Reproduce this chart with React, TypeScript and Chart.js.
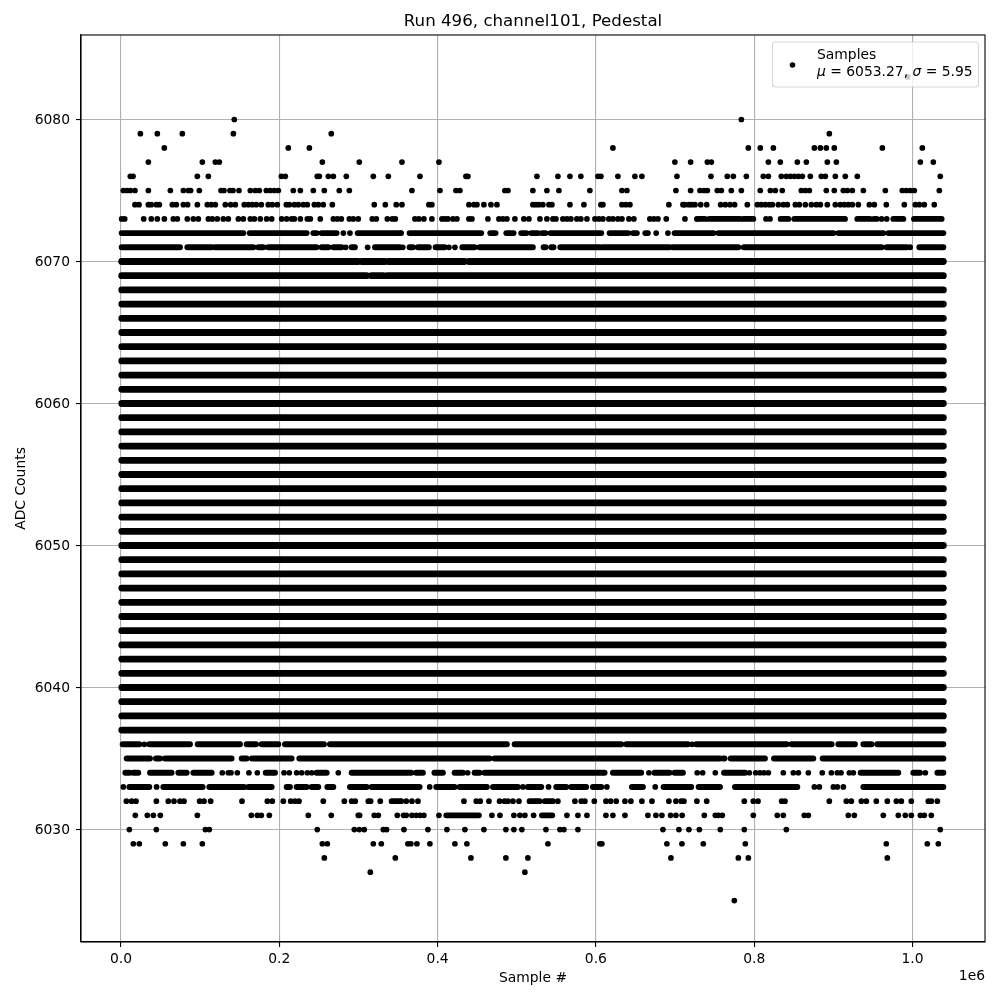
import React, { useEffect, useRef } from "react";
import { Chart, registerables } from "chart.js";

Chart.register(...registerables);

const FONT = "'DejaVu Sans'";
const titleText = "Run 496, channel101, Pedestal";
const xLabel = "Sample #";
const yLabel = "ADC Counts";
const xOffsetText = "1e6";
const legendName = "Samples";
const legendMu = "6053.27";
const legendSigma = "5.95";
const xTickValues = [0, 200000, 400000, 600000, 800000, 1000000];
const yTickValues = [6030, 6040, 6050, 6060, 6070, 6080];

// x positions are in thousands of samples
const dots6083 = [994];
const dots6080 = [143.2, 783.8];
const dots6079 = [24.5, 45.9, 77.5, 142, 265.7, 894.9];
const dots6078 = [54.8, 211.4, 238, 621.5, 792.6, 807.7, 824.2, 876, 883.6, 891.1, 901.2, 961.9, 1012.4];
const dots6077 = [34.6, 102.8, 119.2, 124.3, 254.4, 301.1, 355, 401.7, 699.8, 719.7, 740.8, 745.9, 817.9, 833, 854.5, 865.9, 892.4, 903.8, 1009.9, 1026.3];
const dots6076 = [11.8, 15.2, 96.5, 110.4, 202.6, 207.6, 248, 250.6, 262, 268.3, 284.7, 318.8, 337.8, 377.7, 435.8, 438.3, 525.5, 552, 567.2, 581, 602.6, 606.3, 627.8, 649.3, 658.1, 702.4, 745.4, 766, 773.6, 790.1, 811.5, 817.9, 834.3, 840.6, 845.7, 850.7, 855.8, 860.8, 870.9, 884.8, 889.9, 902.5, 915.1, 930.3, 1035.1];
const dots6075 = [3, 7.6, 11.8, 17.7, 34.6, 62.4, 78.8, 85.1, 88, 99, 126.4, 130.1, 137.7, 141.5, 149.1, 163.4, 169.7, 174.8, 183.6, 188.7, 193.7, 198.8, 217.7, 226.6, 243, 256.9, 275.8, 288.5, 367.6, 403, 423.2, 428.2, 485, 488.9, 520.4, 538.1, 553.3, 592.4, 632.9, 639.2, 701.1, 719.7, 731.5, 736.6, 740.8, 753.4, 758.5, 771.1, 783.8, 807.7, 820.4, 826.7, 835.5, 859.5, 864.6, 869.7, 891.1, 901.2, 912.6, 917.7, 924, 937.9, 965.7, 987.1, 992.2, 997.2, 1002.3, 1033.9];
const dots6074 = [17.7, 22.8, 34.6, 38.3, 44.7, 48.5, 64.9, 69.9, 78.8, 84.2, 96.5, 109.1, 114.1, 119.2, 131.8, 138.6, 144.5, 155.8, 160.9, 165.9, 171, 177.3, 186.1, 191.2, 197.5, 208.9, 212.7, 219, 224, 230.4, 235.4, 244.3, 249.3, 255.6, 267, 320, 334, 347.8, 355, 389, 392.8, 439.6, 445.9, 449.7, 458.5, 467.4, 475, 520.4, 524.2, 528, 533, 540.7, 544.4, 567.2, 584.9, 606.3, 608.9, 632.9, 637.9, 643, 692.2, 710, 712.5, 717.5, 721, 725.2, 732.4, 740, 757.6, 763.5, 769.4, 775.3, 791.3, 804, 809, 814, 819.1, 822.9, 830.5, 836.8, 841.9, 852, 857, 864.6, 872.2, 878.5, 883.6, 892.4, 902.5, 908.8, 913.9, 918.9, 924, 931.6, 945.5, 951.8, 966.9, 989.7, 1003.6, 1008.6, 1014.9, 1027.5];
const dots6073 = [0.9, 4.7, 28.7, 38.3, 45.9, 54.8, 66.1, 71.2, 83.8, 91.4, 97.7, 110.4, 115.4, 121.7, 129.3, 135.6, 148.3, 154.6, 163.4, 168.5, 176, 184, 190.4, 203, 209.3, 215.6, 219, 226.6, 235.4, 239.2, 251.8, 268.3, 273.3, 278.4, 288.5, 293.5, 299.8, 317.5, 322.6, 336.5, 342.8, 346.6, 371.4, 376.4, 382.7, 392.8, 405.5, 409.3, 413, 419.4, 424.4, 439.6, 443.4, 463.6, 477.5, 482.5, 487.6, 497.7, 509, 515.4, 529.3, 538.1, 545.7, 549.5, 558.3, 563.4, 568.4, 576, 581, 588.7, 598.8, 603.8, 608.9, 616.4, 621.5, 627.8, 632.9, 641.7, 648, 668.2, 673.3, 678.4, 688.9, 712.5, 727.6, 814.9, 820, 960.9, 967.4];
const dots6072 = [281, 289.3, 354, 676.2, 691];
const dots6071 = [283.9, 311.6, 356, 414.3, 421.9];
const dots6036 = [29.5, 721.7];
const dots6034 = [128, 135.6, 139, 147, 161.7, 172.3, 206, 212.7, 221.9, 228.3, 235.4, 240.9, 274.6, 438, 667, 728, 734.9, 750.9, 793.9, 801.9, 807.3, 812.4, 817.9, 836.8, 849.4, 855.8, 868.4, 886, 897.5, 905, 909.7, 920.2, 925.2, 1016.2];
const dots6033 = [3, 45, 390, 507.8, 540.2, 613.9, 675, 729.7, 876, 882.3, 900, 905, 912.6];
const dots6032 = [6.8, 13.5, 19, 44.7, 59.8, 67, 74.6, 79.6, 99.4, 104.9, 113.3, 152.9, 184.9, 191.2, 205.1, 214.4, 219.8, 224.9, 255.6, 282.2, 291.4, 296, 312.5, 315.4, 327.6, 354, 360.4, 367.6, 375.2, 433.3, 448.9, 453.9, 464.9, 478.3, 484.6, 488.9, 495.2, 502.8, 552, 573.5, 581.5, 586.1, 598, 612.7, 618.6, 625.7, 636.7, 644.2, 658.1, 670.8, 692.2, 701.1, 707.8, 711.2, 727.6, 740, 787.5, 798.9, 804.8, 834.7, 838.9, 894.9, 916.4, 922.7, 935.4, 941.7, 954.3, 968.2, 979.6, 985.9, 998.5, 1020, 1023.8, 1031.4];
const dots6031 = [18.1, 33.3, 40.9, 49.7, 96.5, 164.7, 172.3, 177.3, 187.4, 236.7, 265.7, 299.8, 301.5, 320, 325.1, 349.1, 357, 360.4, 367.6, 373, 378, 382.7, 401.7, 468.6, 478.8, 496.4, 504, 510.3, 521.3, 563.4, 577.3, 588.7, 612.7, 621.5, 636.7, 665.7, 675.8, 683.4, 694.4, 701.1, 709, 737, 750.9, 754.7, 759.7, 798.9, 829.2, 836.8, 863.3, 868.4, 918.9, 926.5, 963.1, 982.1, 990.9, 998.5, 1009.9, 1014.9, 1023.8];
const dots6030 = [10.6, 44.7, 106.6, 111.6, 248, 294.8, 301.1, 307.4, 331.4, 335.6, 357.5, 387.8, 411.8, 434.5, 458.5, 486.3, 496.4, 506.5, 536.9, 554.6, 559.6, 577.3, 684.7, 704.9, 717.5, 730.7, 757.2, 787.5, 840.6, 1035.1];
const dots6029 = [15.6, 23.2, 56, 78.8, 102.8, 254.4, 260.7, 318.8, 328.9, 362.5, 366.3, 373.9, 390.3, 421.9, 437, 539.4, 605, 607.6, 689.7, 708.7, 735.7, 788.8, 966.9, 1018.7, 1032.6];
const dots6028 = [256.9, 346.6, 442.1, 486.3, 514.1, 694.8, 780, 792.6, 968.2];
const dots6027 = [315, 510.3];
const dots6025 = [774.9];

// continuous stretches of samples, as [from, to] pairs
const runs6073: number[][] = [[729.4, 737.8], [743.3, 782], [786.3, 798.9], [833.4, 843.1], [850.7, 914.7], [930.3, 946.3], [951.4, 954.7], [975.8, 988.4], [1001.9, 1036.8]];
const runs6072: number[][] = [[0.9, 154.6], [162.6, 234.6], [243, 247.2], [253.5, 272.5], [299, 352.5], [364.6, 455.2], [466.5, 473.3], [486.8, 496], [505.7, 512], [518.3, 526.8], [532.2, 536.4], [542.8, 606.8], [617.3, 640.5], [646.8, 651.8], [662.4, 665.7], [699.4, 748.4], [754.7, 900], [906.3, 963], [969.5, 1039]];
const runs6071: number[][] = [[0.9, 74.6], [83.8, 114.6], [118.8, 167.2], [173.5, 179.8], [186, 247], [253.5, 262], [268.3, 278.8], [291.4, 295.6], [320.9, 352.5], [364.6, 368.8], [375.2, 389], [397.5, 408.8], [431.2, 446.7], [453, 520.4], [533.9, 536.4], [543.6, 546.5], [555, 604.7], [607.6, 693], [697.3, 780], [787, 961], [967.4, 992.6], [997, 998], [1008.6, 1039]];
const runs6036: number[][] = [[2.1, 23.2], [35.8, 87.2], [96.9, 150.4], [158.8, 170.6], [177.7, 198.8], [207.2, 256.5], [264, 487.6], [497.3, 632], [638.4, 716.3], [726.8, 841], [847.3, 897.9], [906.3, 927.3], [937.9, 948.4], [955.6, 1039]];
const runs6035: number[][] = [[7.2, 36.7], [44.2, 49.3], [55.6, 139.8], [152.5, 158.8], [165.5, 215.6], [225.3, 465.7], [472, 756.8], [761, 762.5], [770.3, 813.6], [825, 874.7], [886.5, 1039]];
const runs6034: number[][] = [[5.5, 10.6], [15.6, 21.9], [36.7, 64], [72.5, 83], [91.4, 114.6], [182.8, 194.6], [247.2, 259.9], [291.4, 366.7], [373, 381.5], [396, 406.7], [421.5, 432], [446.7, 453], [459.4, 611], [621.5, 657.3], [674, 693], [699.4, 710], [761.9, 788.4], [934.5, 982.1], [1001, 1009.5], [1031.4, 1039]];
const runs6033: number[][] = [[10.6, 35.8], [53.5, 103.2], [111.6, 155.4], [160.9, 190.4], [209.3, 213.5], [221.9, 234.6], [240.9, 249.3], [260.7, 268.3], [289.3, 310.4], [316.7, 377.3], [398.3, 421.5], [427.8, 462.3], [470, 501.5], [514, 531], [549.9, 562.6], [568.9, 587.8], [596.2, 606.8], [645.5, 659.4], [685.5, 720.5], [731.5, 756.8], [775.7, 854.5], [937.9, 1039]];
const runs6032: number[][] = [[342, 352.5], [516.2, 528.9], [535.6, 545.7]];
const runs6031: number[][] = [[411, 452.2], [531.8, 544.9]];

// densest rows, drawn a little heavier because overlapping samples fill every pixel
const runs6070: number[][] = [[0.9, 299.8], [304, 333.5], [337.7, 434], [439.6, 1039]];
const runs6069: number[][] = [[0.9, 310.4], [316.7, 331.4], [336, 1039]];
const solidLevels = [6037, 6038, 6039, 6040, 6041, 6042, 6043, 6044, 6045, 6046, 6047, 6048, 6049, 6050, 6051, 6052, 6053, 6054, 6055, 6056, 6057, 6058, 6059, 6060, 6061, 6062, 6063, 6064, 6065, 6066, 6067, 6068];
const solidSpan = [1, 1039];

const dotRows: [number, number[]][] = [
  [6083, dots6083], [6080, dots6080], [6079, dots6079], [6078, dots6078], [6077, dots6077], [6076, dots6076],
  [6075, dots6075], [6074, dots6074], [6073, dots6073], [6072, dots6072], [6071, dots6071], [6036, dots6036],
  [6034, dots6034], [6033, dots6033], [6032, dots6032], [6031, dots6031], [6030, dots6030], [6029, dots6029],
  [6028, dots6028], [6027, dots6027], [6025, dots6025],
];
const runRows: [number, number[][]][] = [
  [6073, runs6073], [6072, runs6072], [6071, runs6071], [6036, runs6036],
  [6035, runs6035], [6034, runs6034], [6033, runs6033], [6032, runs6032], [6031, runs6031],
];
const solidRows: [number, number[][]][] = [
  [6070, runs6070], [6069, runs6069],
  ...solidLevels.map((l): [number, number[][]] => [l, [solidSpan]]),
];

const toLine = (rows: [number, number[][]][]) =>
  rows.flatMap(([y, spans]) =>
    spans.flatMap(([a, b]) => [{ x: a * 1000, y }, { x: b * 1000, y }, { x: b * 1000, y: null as number | null }])
  );
const dotPoints = dotRows.flatMap(([y, xs]) => xs.map((x) => ({ x: x * 1000, y })));
const runPoints = toLine(runRows);
const solidPoints = toLine(solidRows);

const framePlugin = {
  id: "frame",
  afterDatasetsDraw(chart: Chart) {
    const { ctx, chartArea: a } = chart;
    ctx.save();
    // legend box
    const bx = a.right - 212.5, by = a.top + 7, bw = 206, bh = 45, r = 3;
    ctx.beginPath();
    ctx.roundRect(bx, by, bw, bh, r);
    ctx.fillStyle = "rgba(255,255,255,0.8)";
    ctx.fill();
    ctx.strokeStyle = "rgba(204,204,204,0.8)";
    ctx.lineWidth = 1.1;
    ctx.stroke();
    ctx.beginPath();
    ctx.arc(bx + 20, by + 23, 2.78, 0, Math.PI * 2);
    ctx.fillStyle = "#000";
    ctx.fill();
    ctx.textBaseline = "alphabetic";
    ctx.textAlign = "left";
    const upright = `13.89px ${FONT}`;
    const italic = `oblique 13.89px ${FONT}`;
    ctx.font = upright;
    const tx = bx + 44.5;
    ctx.fillText(legendName, tx, by + 17);
    let cx = tx;
    const parts: [string, string][] = [
      ["μ", italic], [` = ${legendMu}, `, upright], ["σ", italic], [` = ${legendSigma}`, upright],
    ];
    for (const [s, f] of parts) {
      ctx.font = f;
      ctx.fillText(s, cx, by + 34);
      cx += ctx.measureText(s).width;
    }
    // axes frame
    ctx.strokeStyle = "#000";
    ctx.lineWidth = 1.1;
    ctx.strokeRect(a.left, a.top, a.right - a.left, a.bottom - a.top);
    // offset text
    ctx.font = upright;
    ctx.textAlign = "right";
    ctx.fillText(xOffsetText, a.right, 980);
    ctx.restore();
  },
};

export default function App() {
  const ref = useRef<HTMLCanvasElement>(null);
  useEffect(() => {
    const chart = new Chart(ref.current!, {
      type: "scatter",
      data: {
        datasets: [
          {
            label: "Dense rows",
            data: solidPoints as any,
            showLine: true,
            spanGaps: false,
            pointRadius: 0,
            borderColor: "#000",
            borderWidth: 6.8,
            borderCapStyle: "round",
          },
          {
            label: "Runs",
            data: runPoints as any,
            showLine: true,
            spanGaps: false,
            pointRadius: 0,
            borderColor: "#000",
            borderWidth: 5.9,
            borderCapStyle: "round",
          },
          {
            label: legendName,
            data: dotPoints,
            pointRadius: 2.85,
            pointBorderWidth: 0,
            backgroundColor: "#000",
            borderColor: "#000",
          },
        ],
      },
      options: {
        animation: false,
        responsive: false,
        devicePixelRatio: 1,
        layout: { padding: { left: 0, right: 15, top: 0, bottom: 0 } },
        plugins: {
          legend: { display: false },
          tooltip: { enabled: false },
          title: {
            display: true,
            text: titleText,
            fullSize: false,
            color: "#000",
            font: { family: FONT, size: 14.4 * 1.157, weight: "normal" },
            padding: { top: 12, bottom: 3 },
          },
        },
        scales: {
          x: {
            type: "linear",
            min: -50500,
            max: 1091600,
            afterFit: (s: any) => { s.height = 58; },
            afterBuildTicks: (s: any) => { s.ticks = xTickValues.map((value) => ({ value })); },
            grid: { color: "#b0b0b0", lineWidth: 1.1, tickColor: "#000", tickLength: 5 },
            border: { color: "#000", width: 1.1 },
            ticks: {
              autoSkip: false,
              color: "#000",
              maxRotation: 0,
              padding: 4,
              font: { family: FONT, size: 13.89 },
              callback: (v: any) => (Number(v) / 1e6).toFixed(1),
            },
            title: { display: true, text: xLabel, color: "#000", font: { family: FONT, size: 13.89 }, padding: { top: 4, bottom: 13 } },
          },
          y: {
            type: "linear",
            min: 6022.08,
            max: 6085.95,
            afterFit: (s: any) => { s.width = 81; },
            afterBuildTicks: (s: any) => { s.ticks = yTickValues.map((value) => ({ value })); },
            grid: { color: "#b0b0b0", lineWidth: 1.1, tickColor: "#000", tickLength: 5 },
            border: { color: "#000", width: 1.1 },
            ticks: {
              autoSkip: false,
              color: "#000",
              padding: 6,
              labelOffset: 1,
              font: { family: FONT, size: 13.89 },
              callback: (v: any) => String(v),
            },
            title: { display: true, text: yLabel, color: "#000", font: { family: FONT, size: 13.89 }, padding: { top: 13, bottom: 0 } },
          },
        },
      },
      plugins: [framePlugin],
    } as any);
    return () => chart.destroy();
  }, []);
  return (
    <div style={{ position: "fixed", left: 0, top: 0, width: 1000, height: 1000, background: "#fff" }}>
      <canvas ref={ref} width={1000} height={1000} style={{ display: "block" }} />
    </div>
  );
}
